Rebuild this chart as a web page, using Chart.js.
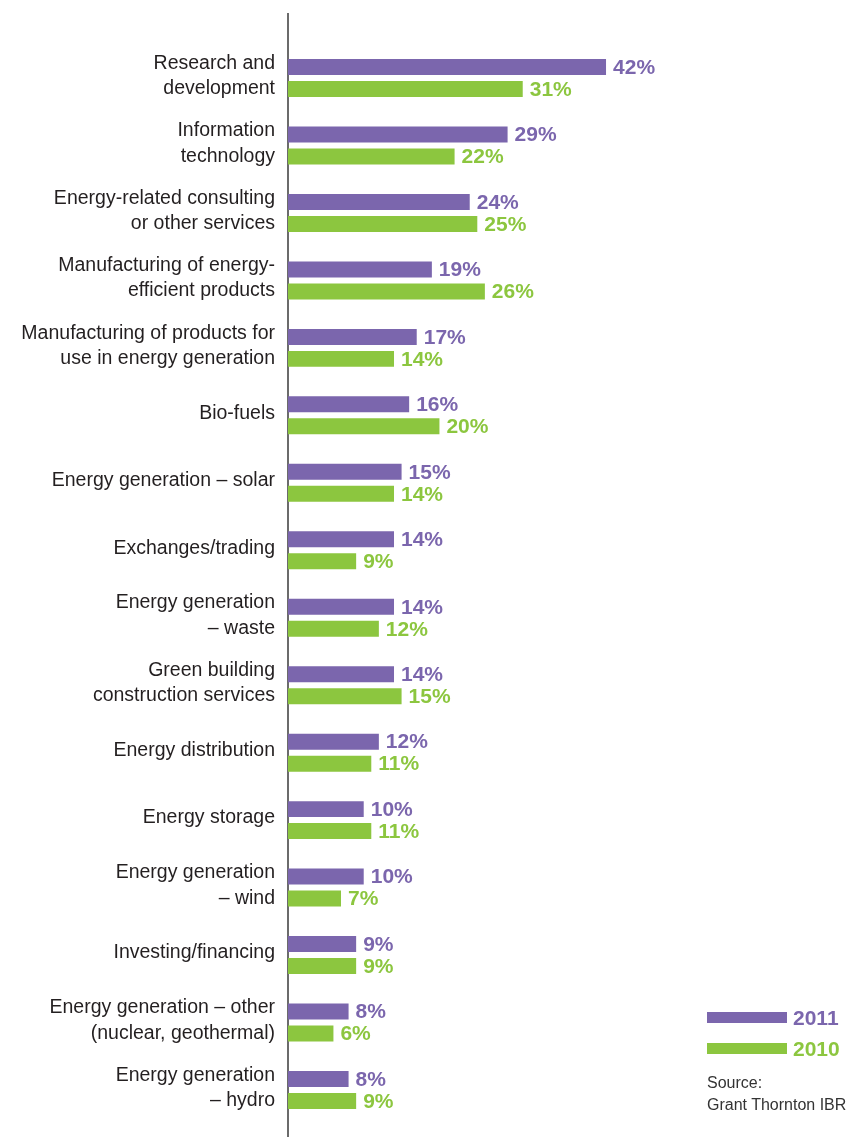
<!DOCTYPE html>
<html>
<head>
<meta charset="utf-8">
<script src="https://cdn.jsdelivr.net/npm/chart.js@4/dist/chart.umd.min.js"></script>
<style>
  html, body { margin: 0; padding: 0; background: #ffffff; }
  #wrap { position: relative; width: 851px; height: 1137px; overflow: hidden; }
  canvas { position: absolute; left: 0; top: 0; }
  .lg { position: absolute; font-family: "Liberation Sans", Arial, sans-serif; }
  .sw { position: absolute; left: 707px; width: 80px; height: 11px; }
  .lt { left: 793px; font-weight: bold; font-size: 21px; line-height: 24px; }
  .src { left: 707px; font-size: 16px; line-height: 22px; color: #333333; }
</style>
</head>
<body>
<div id="wrap">
  <canvas id="c" width="851" height="1137"></canvas>
  <div id="legend"></div>
</div>
<script>
const categories = [
  ["Research and", "development"],
  ["Information", "technology"],
  ["Energy-related consulting", "or other services"],
  ["Manufacturing of energy-", "efficient products"],
  ["Manufacturing of products for", "use in energy generation"],
  ["Bio-fuels"],
  ["Energy generation \u2013 solar"],
  ["Exchanges/trading"],
  ["Energy generation", "\u2013 waste"],
  ["Green building", "construction services"],
  ["Energy distribution"],
  ["Energy storage"],
  ["Energy generation", "\u2013 wind"],
  ["Investing/financing"],
  ["Energy generation \u2013 other", "(nuclear, geothermal)"],
  ["Energy generation", "\u2013 hydro"]
];
const seriesNames = ["2011", "2010"];
const values2011 = [42, 29, 24, 19, 17, 16, 15, 14, 14, 14, 12, 10, 10, 9, 8, 8];
const values2010 = [31, 22, 25, 26, 14, 20, 14, 9, 12, 15, 11, 11, 7, 9, 6, 9];
const seriesColors = ["#7b66ad", "#8cc63f"];
const sourceLines = ["Source:", "Grant Thornton IBR"];

const FONT = '"Liberation Sans", Arial, sans-serif';

const axisLinePlugin = {
  id: 'axisLine',
  beforeDatasetsDraw(chart) {
    const ctx = chart.ctx;
    const x0 = chart.scales.x.getPixelForValue(0);
    ctx.save();
    ctx.strokeStyle = '#6b6b6b';
    ctx.lineWidth = 2;
    ctx.beginPath();
    ctx.moveTo(x0, 13);
    ctx.lineTo(x0, chart.height);
    ctx.stroke();
    ctx.restore();
  }
};

const valueLabelPlugin = {
  id: 'valueLabels',
  afterDatasetsDraw(chart) {
    const ctx = chart.ctx;
    ctx.save();
    ctx.font = 'bold 21px ' + FONT;
    ctx.textAlign = 'left';
    ctx.textBaseline = 'middle';
    chart.data.datasets.forEach((ds, di) => {
      const meta = chart.getDatasetMeta(di);
      ctx.fillStyle = ds.backgroundColor;
      meta.data.forEach((bar, i) => {
        ctx.fillText(ds.data[i] + '%', bar.x + 7, bar.y + 1);
      });
    });
    ctx.restore();
  }
};

new Chart(document.getElementById('c'), {
  type: 'bar',
  data: {
    labels: categories,
    datasets: [
      { label: seriesNames[0], data: values2011, backgroundColor: seriesColors[0], borderWidth: 0,
        categoryPercentage: 0.652, barPercentage: 0.727 },
      { label: seriesNames[1], data: values2010, backgroundColor: seriesColors[1], borderWidth: 0,
        categoryPercentage: 0.652, barPercentage: 0.727 }
    ]
  },
  options: {
    indexAxis: 'y',
    responsive: false,
    animation: false,
    devicePixelRatio: 1,
    layout: { padding: { left: 0, right: 184.4, top: 44.3, bottom: 13.3 } },
    plugins: { legend: { display: false }, tooltip: { enabled: false } },
    scales: {
      x: { type: 'linear', min: 0, max: 50, display: false },
      y: {
        type: 'category',
        grid: { display: false, drawTicks: false },
        border: { display: false },
        ticks: {
          color: '#231f20',
          padding: 13,
          labelOffset: -2,
          font: { family: FONT, size: 19.5, lineHeight: 1.3 }
        },
        afterFit(scale) {
          scale.width = 288;
          scale.paddingTop = 0;
          scale.paddingBottom = 0;
        }
      }
    }
  },
  plugins: [axisLinePlugin, valueLabelPlugin]
});

// legend + source (HTML text)
const lg = document.getElementById('legend');
const swTops = [1012, 1043];
seriesNames.forEach((name, i) => {
  const sw = document.createElement('div');
  sw.className = 'sw';
  sw.style.top = swTops[i] + 'px';
  sw.style.background = seriesColors[i];
  lg.appendChild(sw);
  const t = document.createElement('div');
  t.className = 'lg lt';
  t.style.top = (swTops[i] + 5.5 - 12) + 'px';
  t.style.color = seriesColors[i];
  t.textContent = name;
  lg.appendChild(t);
});
sourceLines.forEach((line, i) => {
  const s = document.createElement('div');
  s.className = 'lg src';
  s.style.top = (1072 + i * 22) + 'px';
  s.textContent = line;
  lg.appendChild(s);
});
</script>
</body>
</html>
